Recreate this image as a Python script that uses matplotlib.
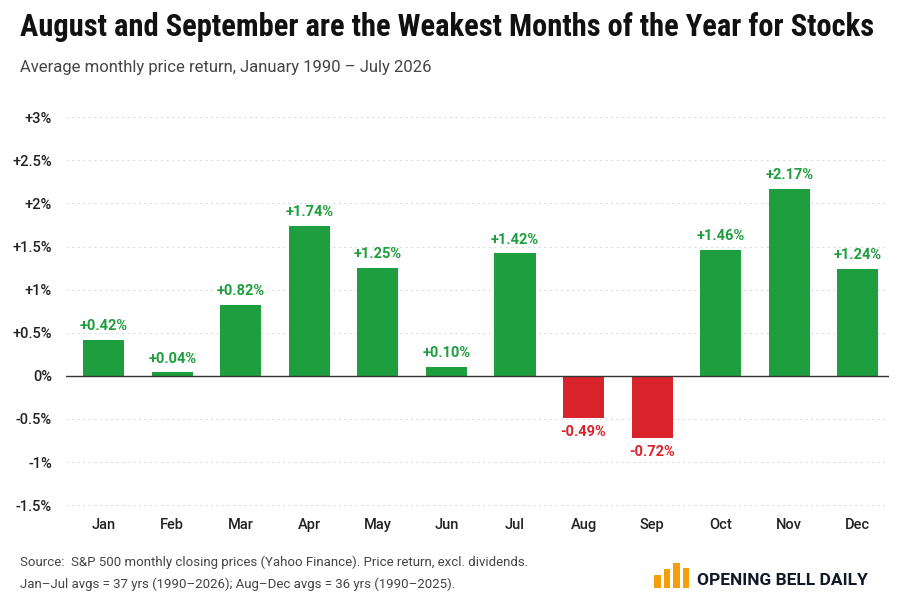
import matplotlib.pyplot as plt

months = ["Jan", "Feb", "Mar", "Apr", "May", "Jun", "Jul", "Aug", "Sep", "Oct", "Nov", "Dec"]
returns = [0.42, 0.04, 0.82, 1.74, 1.25, 0.10, 1.42, -0.49, -0.72, 1.46, 2.17, 1.24]
yticks = [-1.5, -1, -0.5, 0, 0.5, 1, 1.5, 2, 2.5, 3]
ylabels = ["-1.5%", "-1%", "-0.5%", "0%", "+0.5%", "+1%", "+1.5%", "+2%", "+2.5%", "+3%"]
logo_bars = [0.5, 0.75, 1.0, 0.8]

green = "#1e9e3e"
red = "#d9232a"
plt.rcParams['font.family'] = ['Roboto', 'DejaVu Sans']

fig = plt.figure(figsize=(9.04, 6.03), dpi=100)
ax = fig.add_axes([0.073, 0.155, 0.91, 0.665])

colors = [green if v >= 0 else red for v in returns]
ax.bar(range(len(months)), returns, width=0.6, color=colors, zorder=2)
for i, v in enumerate(returns):
    txt = ("+%.2f%%" % v) if v >= 0 else ("%.2f%%" % v)
    if v >= 0:
        ax.text(i, v + 0.08, txt, ha="center", va="bottom", color=green, fontsize=10.5, fontweight="bold")
    else:
        ax.text(i, v - 0.08, txt, ha="center", va="top", color=red, fontsize=10.5, fontweight="bold")

ax.set_xlim(-0.55, 11.45)
ax.set_ylim(-1.55, 3.1)
ax.set_yticks(yticks)
ax.set_yticklabels(ylabels)
ax.set_xticks(range(len(months)))
ax.set_xticklabels(months)
ax.tick_params(length=0, labelsize=10.5, colors="#222222", pad=6)
ax.tick_params(axis="y", pad=10)
for lab in ax.get_xticklabels() + ax.get_yticklabels():
    lab.set_fontweight("medium")
ax.grid(axis="y", color="#dddddd", linestyle=(0, (2, 3)), linewidth=0.8, zorder=0)
ax.axhline(0, color="#333333", linewidth=1, zorder=3)
for s in ax.spines.values():
    s.set_visible(False)

fig.text(0.022, 0.94, "August and September are the Weakest Months of the Year for Stocks",
         fontsize=22, fontweight="heavy", color="#111111", family=["Roboto Condensed", "Roboto", "DejaVu Sans"])
fig.text(0.022, 0.88, "Average monthly price return, January 1990 \u2013 July 2026", fontsize=12, color="#444444")
fig.text(0.022, 0.062, "Source:  S&P 500 monthly closing prices (Yahoo Finance). Price return, excl. dividends.",
         fontsize=9.5, color="#444444")
fig.text(0.022, 0.025, "Jan\u2013Jul avgs = 37 yrs (1990\u20132026); Aug\u2013Dec avgs = 36 yrs (1990\u20132025).",
         fontsize=9.5, color="#444444")

lax = fig.add_axes([0.722, 0.025, 0.042, 0.042])
lax.bar(range(len(logo_bars)), logo_bars, width=0.65, color="#f59e0b")
lax.set_xlim(-0.5, 3.5)
lax.set_ylim(0, 1)
lax.axis("off")
fig.text(0.771, 0.03, "OPENING BELL DAILY", fontsize=12.5, fontweight="bold", color="#111827")

fig.savefig("out.png", dpi=100, facecolor="white")
